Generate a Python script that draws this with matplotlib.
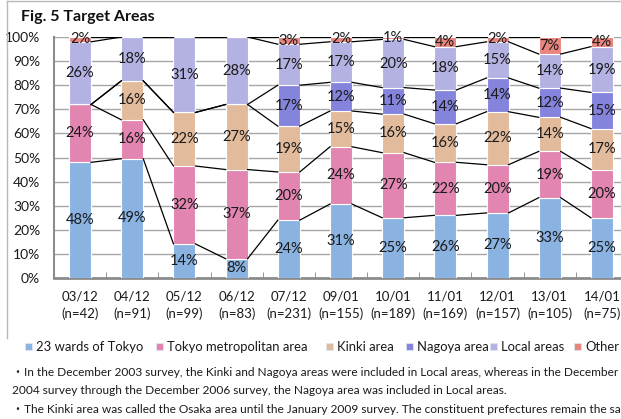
import matplotlib
matplotlib.use("Agg")
import matplotlib.pyplot as plt
import numpy as np
from matplotlib.lines import Line2D
from matplotlib.patches import Rectangle

# Survey dates, sample sizes and area shares (%)
dates = ["03/12", "04/12", "05/12", "06/12", "07/12", "09/01", "10/01", "11/01", "12/01", "13/01", "14/01"]
samples = [42, 91, 99, 83, 231, 155, 189, 169, 157, 105, 75]

series_names = ["23 wards of Tokyo", "Tokyo metropolitan area", "Kinki area",
                "Nagoya area", "Local areas", "Other"]
wards = [48, 49, 14, 8, 24, 31, 25, 26, 27, 33, 25]
tokyo_metro = [24, 16, 32, 37, 20, 24, 27, 22, 20, 19, 20]
kinki = [0, 16, 22, 27, 19, 15, 16, 16, 22, 14, 17]
nagoya = [0, 0, 0, 0, 17, 12, 11, 14, 14, 12, 15]
local = [26, 18, 31, 28, 17, 17, 20, 18, 15, 14, 19]
other = [2, 0, 0, 0, 3, 2, 1, 4, 2, 7, 4]

colors = ["#8ab3e2", "#e285b1", "#e2bb9c", "#8584dd", "#b3b2e3", "#e8857f"]

notes = [
    "・In the December 2003 survey, the Kinki and Nagoya areas were included in Local areas, whereas in the December",
    "2004 survey through the December 2006 survey, the Nagoya area was included in Local areas.",
    "・The Kinki area was called the Osaka area until the January 2009 survey. The constituent prefectures remain the same.",
]

W, H = 621, 419
fx = lambda px: px / W
fy = lambda py: 1 - py / H

plt.rcParams['font.family'] = ['Lato', 'Noto Sans CJK JP', 'DejaVu Sans']

fig = plt.figure(figsize=(W / 100, H / 100), dpi=100)
ax = fig.add_axes([fx(54), 141 / H, 574 / W, 241 / H])

values = np.array([wards, tokyo_metro, kinki, nagoya, local, other], dtype=float)
# 100% stacked, like the original spreadsheet chart
shares = values / values.sum(axis=0) * 100
x = np.arange(len(dates))
bar_w = 0.42

bottom = np.zeros(len(dates))
tops = []
for k in range(len(series_names)):
    ax.bar(x, shares[k], bar_w, bottom=bottom, color=colors[k],
           edgecolor="white", linewidth=0.8, zorder=3)
    for i in range(len(dates)):
        if values[k, i] > 0:
            ax.text(x[i], bottom[i] + shares[k, i] / 2, f"{int(values[k, i])}%",
                    ha="center", va="center", fontsize=10.5, color="#1a1a1a", zorder=5)
    bottom = bottom + shares[k]
    tops.append(bottom.copy())

# series lines between neighbouring bars
for top in tops:
    for i in range(len(dates) - 1):
        ax.plot([x[i] + bar_w / 2, x[i + 1] - bar_w / 2], [top[i], top[i + 1]],
                color="black", linewidth=0.9, zorder=4)

ax.set_xlim(-0.5, len(dates) - 0.5)
ax.set_ylim(0, 100)
ax.set_yticks(np.arange(0, 101, 10))
ax.set_yticklabels([f"{v}%" for v in range(0, 101, 10)], fontsize=10, color="#1a1a1a")
ax.yaxis.grid(True, color="#a6a6a6", linewidth=1.0, zorder=0)
ax.set_axisbelow(True)

ax.set_xticks(x)
ax.set_xticklabels([f"{d}\n(n={n})" for d, n in zip(dates, samples)],
                   fontsize=9.5, color="#1a1a1a", linespacing=1.5)
ax.set_xticks(np.arange(-0.5, len(dates), 1), minor=True)
ax.tick_params(axis="x", which="major", length=0, pad=9)
ax.tick_params(axis="x", which="minor", direction="in", length=4, color="#808080")
ax.tick_params(axis="y", length=0, pad=10)

for side in ["top", "right"]:
    ax.spines[side].set_visible(False)
ax.spines["left"].set_color("#8c8c8c")
ax.spines["left"].set_linewidth(1.5)
ax.spines["bottom"].set_color("#8c8c8c")
ax.spines["bottom"].set_linewidth(2)

# title
fig.text(fx(21), fy(17), "Fig. 5 Target Areas", fontsize=11.5, fontweight="bold",
         ha="left", va="center", color="#111111")

# legend drawn by hand to keep positions of the original
legend_x = [25, 156, 326, 406, 490, 574]
for k, name in enumerate(series_names):
    fig.add_artist(Rectangle((fx(legend_x[k]), fy(350)), 7 / W, 7 / H,
                             transform=fig.transFigure, facecolor=colors[k],
                             edgecolor="#dfe6f0", linewidth=0.6))
    fig.text(fx(legend_x[k] + 11), fy(346.5), name, fontsize=9.4, ha="left",
             va="center", color="#1a1a1a")

# notes under the chart
for line, ypx in zip(notes, [372, 390, 409]):
    fig.text(fx(12), fy(ypx), line,
             fontsize=8.6, ha="left", va="center", color="#1a1a1a")

# frame lines of the original cut-out
fig.add_artist(Line2D([fx(7), fx(7)], [fy(1), fy(338)], color="#b8b8b8", linewidth=1))
fig.add_artist(Line2D([fx(7), 1], [fy(1), fy(1)], color="#b8b8b8", linewidth=1))

fig.savefig("out.png", dpi=100)
